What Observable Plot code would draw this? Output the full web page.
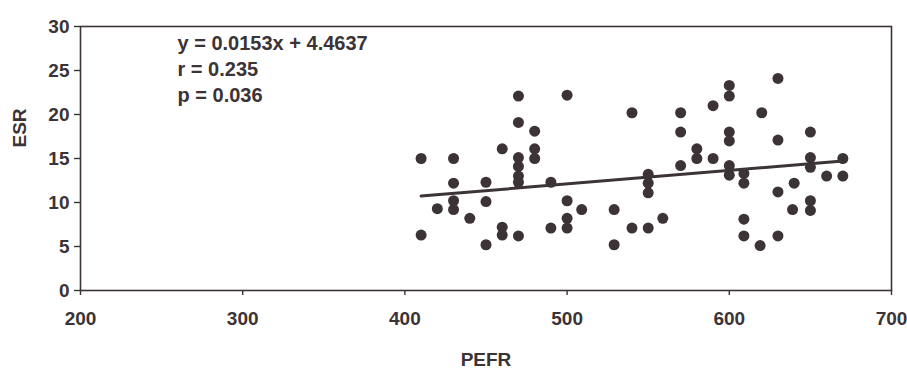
<!DOCTYPE html>
<html><head><meta charset="utf-8">
<script src="https://cdn.jsdelivr.net/npm/d3@7"></script>
<script src="https://cdn.jsdelivr.net/npm/@observablehq/plot@0.6"></script>
<style>body{margin:0;background:#fff}</style>
</head><body><div id="chart"></div>
<script>
const pefr = [470,500,540,470,480,460,480,480,410,430,470,470,470,470,430,450,490,500,509,529,420,430,430,450,440,410,460,460,470,490,500,500,540,529,450,
  550,559,550,550,550,570,570,570,580,580,590,590,600,600,600,600,600,600,609,609,609,609,619,630,630,620,630,630,640,639,650,650,650,650,650,660,670,670];
const esr = [22.1,22.2,20.2,19.1,18.1,16.1,16.1,15.0,15.0,15.0,15.1,14.1,13.0,12.3,12.2,12.3,12.3,10.2,9.2,9.2,9.3,10.2,9.2,10.1,8.2,6.3,7.2,6.3,6.2,7.1,8.2,7.1,7.1,5.2,5.2,
  7.1,8.2,13.2,12.2,11.1,20.2,18.0,14.2,16.1,15.0,15.0,21.0,23.3,22.1,18.0,17.0,14.2,13.1,13.3,12.2,8.1,6.2,5.1,6.2,24.1,20.2,17.1,11.2,12.2,9.2,10.2,9.1,18.0,15.1,14.0,13.0,15.0,13.0];
const xTicks = [200, 300, 400, 500, 600, 700];
const yTicks = [0, 5, 10, 15, 20, 25, 30];
const slope = 0.0153, intercept = 4.4637;
const statsLines = ["y = 0.0153x + 4.4637", "r = 0.235", "p = 0.036"];
const xLabel = "PEFR", yLabel = "ESR";

const points = pefr.map((x, i) => ({x, y: esr[i]}));
const ext = d3.extent(pefr);
const fit = ext.map(x => ({x, y: slope * x + intercept}));
const ink = "#3b3336";

const chart = Plot.plot({
  width: 907, height: 371,
  marginLeft: 80, marginRight: 16, marginTop: 26, marginBottom: 81,
  style: {fontFamily: "'Liberation Sans', Arial, sans-serif", fontSize: "19px", fontWeight: "bold", color: ink, background: "#fff"},
  x: {domain: [200, 700]},
  y: {domain: [0, 30]},
  marks: [
    Plot.frame({stroke: ink, strokeWidth: 1.6}),
    Plot.axisX({ticks: xTicks, tickSize: 5, tickPadding: 16, label: null, strokeWidth: 1.4, fontSize: 19}),
    Plot.axisY({ticks: yTicks, tickSize: 6, tickPadding: 5, label: null, strokeWidth: 1.4, fontSize: 19}),
    Plot.dot(points, {x: "x", y: "y", r: 5.5, fill: ink, stroke: null}),
    Plot.line(fit, {x: "x", y: "y", stroke: ink, strokeWidth: 3}),
    Plot.text([statsLines.join("\n")], {text: d => d, frameAnchor: "top-left", dx: 97, dy: 5, lineAnchor: "top", textAnchor: "start", lineHeight: 1.3, fontSize: 20, fill: ink}),
    Plot.text([xLabel], {text: d => d, frameAnchor: "bottom", dy: 62, lineAnchor: "top", fontSize: 19, fill: ink}),
    Plot.text([yLabel], {text: d => d, frameAnchor: "left", dx: -61, dy: -11, rotate: -90, fontSize: 19, fill: ink})
  ]
});
document.getElementById("chart").appendChild(chart);
</script>
</body></html>
